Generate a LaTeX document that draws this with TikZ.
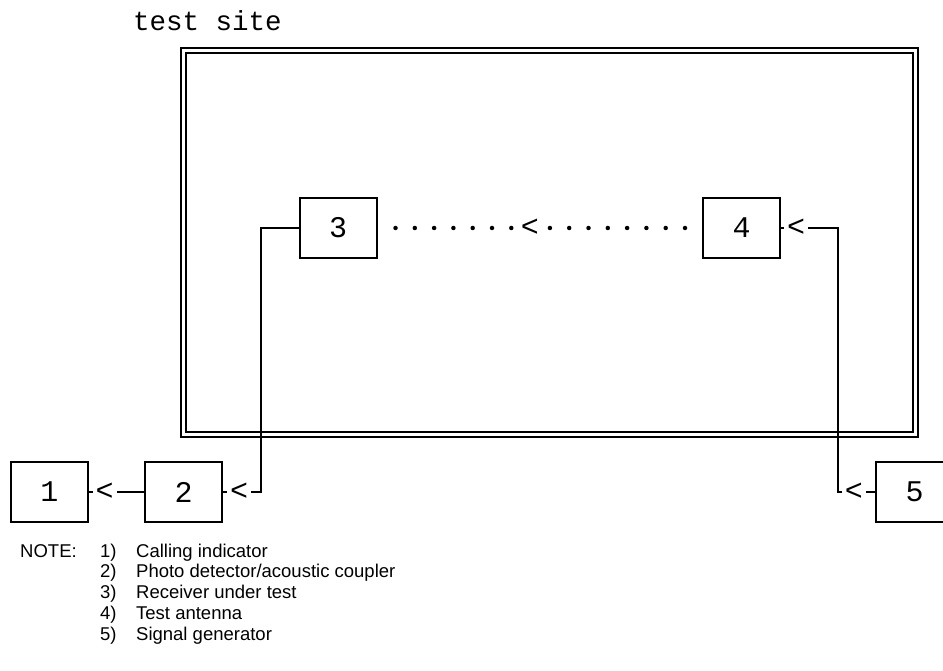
\documentclass[tikz,border=0pt]{standalone}
\usepackage{fontspec}
\newfontfamily\asciifont{Liberation Mono}
\newfontfamily\notefont{Liberation Sans}
\usetikzlibrary{positioning}

\begin{document}
\begin{tikzpicture}[
    x=1pt, y=-1pt,
    node distance=57pt,
    blockbox/.style={draw, line width=2pt, minimum width=77pt, minimum height=60pt,
                     inner sep=0pt, outer sep=0pt, font=\asciifont\fontsize{30}{30}\selectfont},
    wire/.style={line width=2pt},
    ltmark/.style={fill=white, inner sep=0pt, minimum width=24pt, minimum height=16pt,
                   font=\asciifont\fontsize{30}{30}\selectfont},
    dotline/.style={line width=4.5pt, line cap=round, dash pattern=on 0pt off 19.3pt},
    sitebox/.style={draw, line width=2pt, double, double distance=3pt,
                    minimum width=732pt, minimum height=384pt, inner sep=0pt, outer sep=0pt}
]
\useasboundingbox (0,0) rectangle (943,671);

% test site frame
\node[sitebox] (site) at (549.5,242.5) {};
\node[anchor=base west, inner sep=0pt, font=\asciifont\fontsize{27.5}{27.5}\selectfont] (sitelbl) at (133,31) {test site};

% units
\node[blockbox] (n3) at (338,228) {3};
\node[blockbox, right=326.5pt of n3] (n4) {4};
\node[blockbox] (n1) at (49.5,492) {1};
\node[blockbox, right=of n1] (n2) {2};
\node[blockbox] (n5) at (914.5,492) {5};

% links
\draw[dotline] ([xshift=-18pt]n4.west) -- node[ltmark, pos=0.533] {<} ([xshift=17.5pt]n3.east);
\draw[wire] (n2.west) -- node[ltmark, pos=0.71] {<} (n1.east);
\draw[wire] (n3.west) -- ++(-38.5,0) |- node[ltmark, pos=0.782] {<} (n2.east);
\draw[wire] (n5.west) -- node[ltmark, pos=0.58] {<} ++(-38,0) |- node[ltmark, pos=0.86] {<} (n4.east);

% legend
\node[anchor=base west, inner sep=0pt, font=\notefont\fontsize{18.5}{20.9}\selectfont] (notes) at (20,557) {%
  \begin{tabular}[t]{@{}p{80pt}@{}p{36pt}@{}l@{}}
    NOTE: & 1) & Calling indicator\\
          & 2) & Photo detector/acoustic coupler\\
          & 3) & Receiver under test\\
          & 4) & Test antenna\\
          & 5) & Signal generator
  \end{tabular}};

\end{tikzpicture}
\end{document}
